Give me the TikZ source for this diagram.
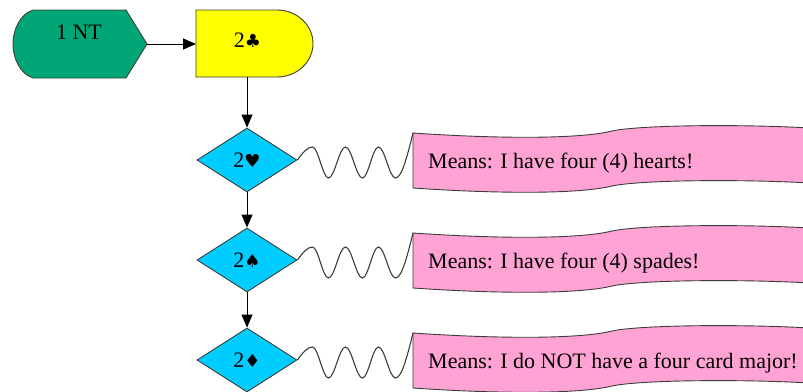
\documentclass[tikz,border=0pt]{standalone}
\usepackage{fontspec}
\setmainfont{Liberation Serif}
\newfontfamily\suitfont{DejaVu Sans}
\newcommand{\suitsym}[1]{{\suitfont\fontsize{18}{20}\selectfont #1}}
\usetikzlibrary{shapes.geometric,arrows.meta}
\definecolor{ntgreen}{RGB}{0,166,118}
\definecolor{cyanD}{RGB}{0,204,255}
\definecolor{pinkF}{RGB}{255,163,212}
\definecolor{yellowD}{RGB}{255,255,0}
\definecolor{edgeG}{RGB}{60,60,60}
\begin{document}
\begin{tikzpicture}[x=1pt,y=1pt,
  font=\fontsize{22}{26}\selectfont,
  outl/.style={draw=edgeG, line width=0.9pt},
  choice/.style={diamond, outl, fill=cyanD, minimum width=100pt, minimum height=64pt, inner sep=0pt},
  conn/.style={draw=black, line width=0.9pt, -{Triangle[length=13pt,width=11pt]}},
  wavy/.style={draw=edgeG, line width=1.1pt},
  flagshape/.style={outl, fill=pinkF},
  lbl/.style={inner sep=0pt}]
\useasboundingbox (0,0) rectangle (803,-391);
\clip (0,0) rectangle (803,-391);

% 1 NT display shape
\path[outl, fill=ntgreen] (33,-10) -- (126,-10) -- (147,-44) -- (126,-78) -- (33,-78)
  .. controls (20,-74) and (13,-58) .. (13,-44)
  .. controls (13,-30) and (20,-14) .. (33,-10) -- cycle;
\node[lbl, anchor=base] (nt) at (79,-39) {1 NT};
\coordinate (ntTip) at (147,-44);

% 2 clubs delay shape
\path[outl, fill=yellowD] (196,-10) -- (277,-10)
  arc[start angle=90, end angle=-90, x radius=36, y radius=33.5] -- (196,-77) -- cycle;
\node[lbl, anchor=base] (cl) at (247.5,-47) {2\suitsym{♣}};
\coordinate (clLeft) at (196,-44);
\coordinate (clBot) at (247,-77);

\draw[conn] (ntTip) -- (clLeft);

% diamonds
\node[choice] (d1) at (247,-160) {2\suitsym{♥}};
\node[choice] (d2) at (247,-260) {2\suitsym{♠}};
\node[choice] (d3) at (247,-360) {2\suitsym{♦}};

\draw[conn] (clBot) -- (d1.north);
\draw[conn] (d1.south) -- (d2.north);
\draw[conn] (d2.south) -- (d3.north);

% flags
\foreach \i/\t in {1/{Means: I have four (4) hearts!},2/{Means: I have four (4) spades!},3/{Means: I do NOT have a four card major!}}{
  \begin{scope}[yshift={-100pt*(\i-1)}]
    \path[flagshape] (413,-133) .. controls (500,-139) and (580,-139) .. (612,-131)
      .. controls (640,-125) and (740,-124) .. (810,-128) -- (810,-183)
      .. controls (740,-179) and (640,-180) .. (612,-186)
      .. controls (580,-194) and (500,-194) .. (413,-188) -- cycle;
    \coordinate (f\i tl) at (413,-133);
    \node[lbl, anchor=base west] (t\i) at (428,-168) {\t};
  \end{scope}
}

% wavy links
\foreach \i in {1,2,3}{
  \draw[wavy] (d\i.east) sin ++(15,13) cos ++(8,-15.5) sin ++(8,-15.5)
    cos ++(8.5,15.5) sin ++(8.5,15.5) cos ++(8.5,-15.5) sin ++(8.5,-15.5)
    cos ++(8,15.5) sin ++(8,15.5) cos ++(8.5,-15.5) sin ++(8.5,-15.5)
    cos (f\i tl);
}
\end{tikzpicture}
\end{document}
